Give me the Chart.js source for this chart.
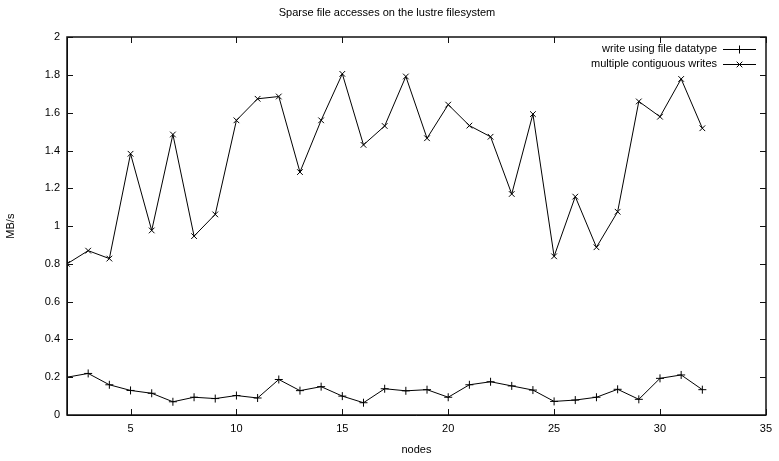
<!DOCTYPE html>
<html>
<head>
<meta charset="utf-8">
<script src="https://cdn.jsdelivr.net/npm/chart.js@4/dist/chart.umd.min.js"></script>
<style>
  body { margin: 0; background: #fff; }
  #wrap { width: 779px; height: 461px; }
</style>
</head>
<body>
<div id="wrap"><canvas id="canvas" width="779" height="461"></canvas></div>
<script>
// nodes on the x axis
var nodes = [2,3,4,5,6,7,8,9,10,11,12,13,14,15,16,17,18,19,20,21,22,23,24,25,26,27,28,29,30,31,32];

// MB/s
var fileDatatype = [0.20,0.22,0.16,0.13,0.115,0.07,0.094,0.087,0.103,0.09,0.188,0.129,0.15,0.10,0.065,0.139,0.128,
                    0.134,0.094,0.16,0.176,0.154,0.132,0.072,0.079,0.094,0.136,0.083,0.194,0.212,0.134];
var contiguous = [0.80,0.87,0.828,1.383,0.977,1.485,0.947,1.062,1.56,1.674,1.686,1.286,1.56,1.806,1.43,1.53,1.792,
                  1.465,1.643,1.532,1.473,1.17,1.593,0.84,1.156,0.888,1.076,1.66,1.579,1.779,1.518];

var xTicks = [5,10,15,20,25,30,35];
var seriesNames = ['write using file datatype', 'multiple contiguous writes'];
var markers = ['cross', 'crossRot'];

var FONT = 'Liberation Sans, Arial, Helvetica, sans-serif';

function pts(vals) {
  return nodes.map(function(n, i) { return {x: n, y: vals[i]}; });
}

// frame, inward ticks on all four sides, gnuplot style legend
var gnuplotFrame = {
  id: 'gnuplotFrame',
  afterDraw: function(chart) {
    var c = chart.ctx, a = chart.chartArea;
    var xs = chart.scales.x, ys = chart.scales.y;
    var L = Math.round(a.left), R = Math.round(a.right);
    var T = Math.round(a.top), B = Math.round(a.bottom);
    c.save();
    c.strokeStyle = '#111';
    c.lineWidth = 1.5;
    c.strokeRect(L, T, R - L, B - T);
    c.lineWidth = 1;
    c.beginPath();
    ys.ticks.forEach(function(t) {
      var y = Math.round(ys.getPixelForValue(t.value)) + 0.5;
      c.moveTo(L, y); c.lineTo(L + 6, y);
      c.moveTo(R, y); c.lineTo(R - 6, y);
    });
    xs.ticks.forEach(function(t) {
      var x = Math.round(xs.getPixelForValue(t.value)) + 0.5;
      c.moveTo(x, B); c.lineTo(x, B - 6);
      c.moveTo(x, T); c.lineTo(x, T + 6);
    });
    c.stroke();

    // legend
    c.strokeStyle = '#000';
    c.fillStyle = '#000';
    c.font = '11px ' + FONT;
    c.textAlign = 'right';
    c.textBaseline = 'middle';
    seriesNames.forEach(function(name, i) {
      var y = 49 + i * 15;
      c.fillText(name, 717, y);
      c.beginPath();
      c.moveTo(723, y + 0.5); c.lineTo(756, y + 0.5);
      c.stroke();
      Chart.helpers.drawPoint(c, {pointStyle: markers[i], radius: 4, borderWidth: 1}, 739.5, y + 0.5);
    });
    c.restore();
  }
};

var frameBorder = { display: true, color: '#000', width: 1 };

new Chart(document.getElementById('canvas'), {
  type: 'line',
  data: {
    datasets: [
      {
        label: seriesNames[0],
        data: pts(fileDatatype),
        borderColor: '#000',
        backgroundColor: '#000',
        borderWidth: 1,
        pointStyle: markers[0],
        pointRadius: 4,
        pointBorderWidth: 1,
        tension: 0
      },
      {
        label: seriesNames[1],
        data: pts(contiguous),
        borderColor: '#000',
        backgroundColor: '#000',
        borderWidth: 1,
        pointStyle: markers[1],
        pointRadius: 4,
        pointBorderWidth: 1,
        tension: 0
      }
    ]
  },
  options: {
    responsive: false,
    animation: false,
    layout: { padding: { left: 0, right: 5, top: 0, bottom: 0 } },
    plugins: {
      legend: { display: false },
      tooltip: { enabled: false },
      title: {
        display: true,
        text: 'Sparse file accesses on the lustre filesystem',
        color: '#000',
        font: { family: FONT, size: 11, weight: 'normal' },
        padding: { top: 6, bottom: 18 }
      }
    },
    scales: {
      x: {
        type: 'linear',
        min: 2,
        max: 35,
        afterBuildTicks: function(s) { s.ticks = xTicks.map(function(v) { return {value: v}; }); },
        afterFit: function(s) { s.height = 46; },
        grid: { display: false, drawTicks: false },
        border: frameBorder,
        ticks: { color: '#000', padding: 7, font: { family: FONT, size: 11 }, maxRotation: 0 },
        title: { display: true, text: 'nodes', color: '#000', font: { family: FONT, size: 11 }, padding: 4 }
      },
      y: {
        min: 0,
        max: 2,
        afterFit: function(s) { s.width = 67; },
        grid: { display: false, drawTicks: false },
        border: frameBorder,
        ticks: {
          stepSize: 0.2,
          color: '#000',
          padding: 7,
          font: { family: FONT, size: 11 },
          callback: function(v) { return String(Number(v.toFixed(1))); }
        },
        title: { display: true, text: 'MB/s', color: '#000', font: { family: FONT, size: 11 }, padding: 4 }
      }
    }
  },
  plugins: [gnuplotFrame]
});
</script>
</body>
</html>
